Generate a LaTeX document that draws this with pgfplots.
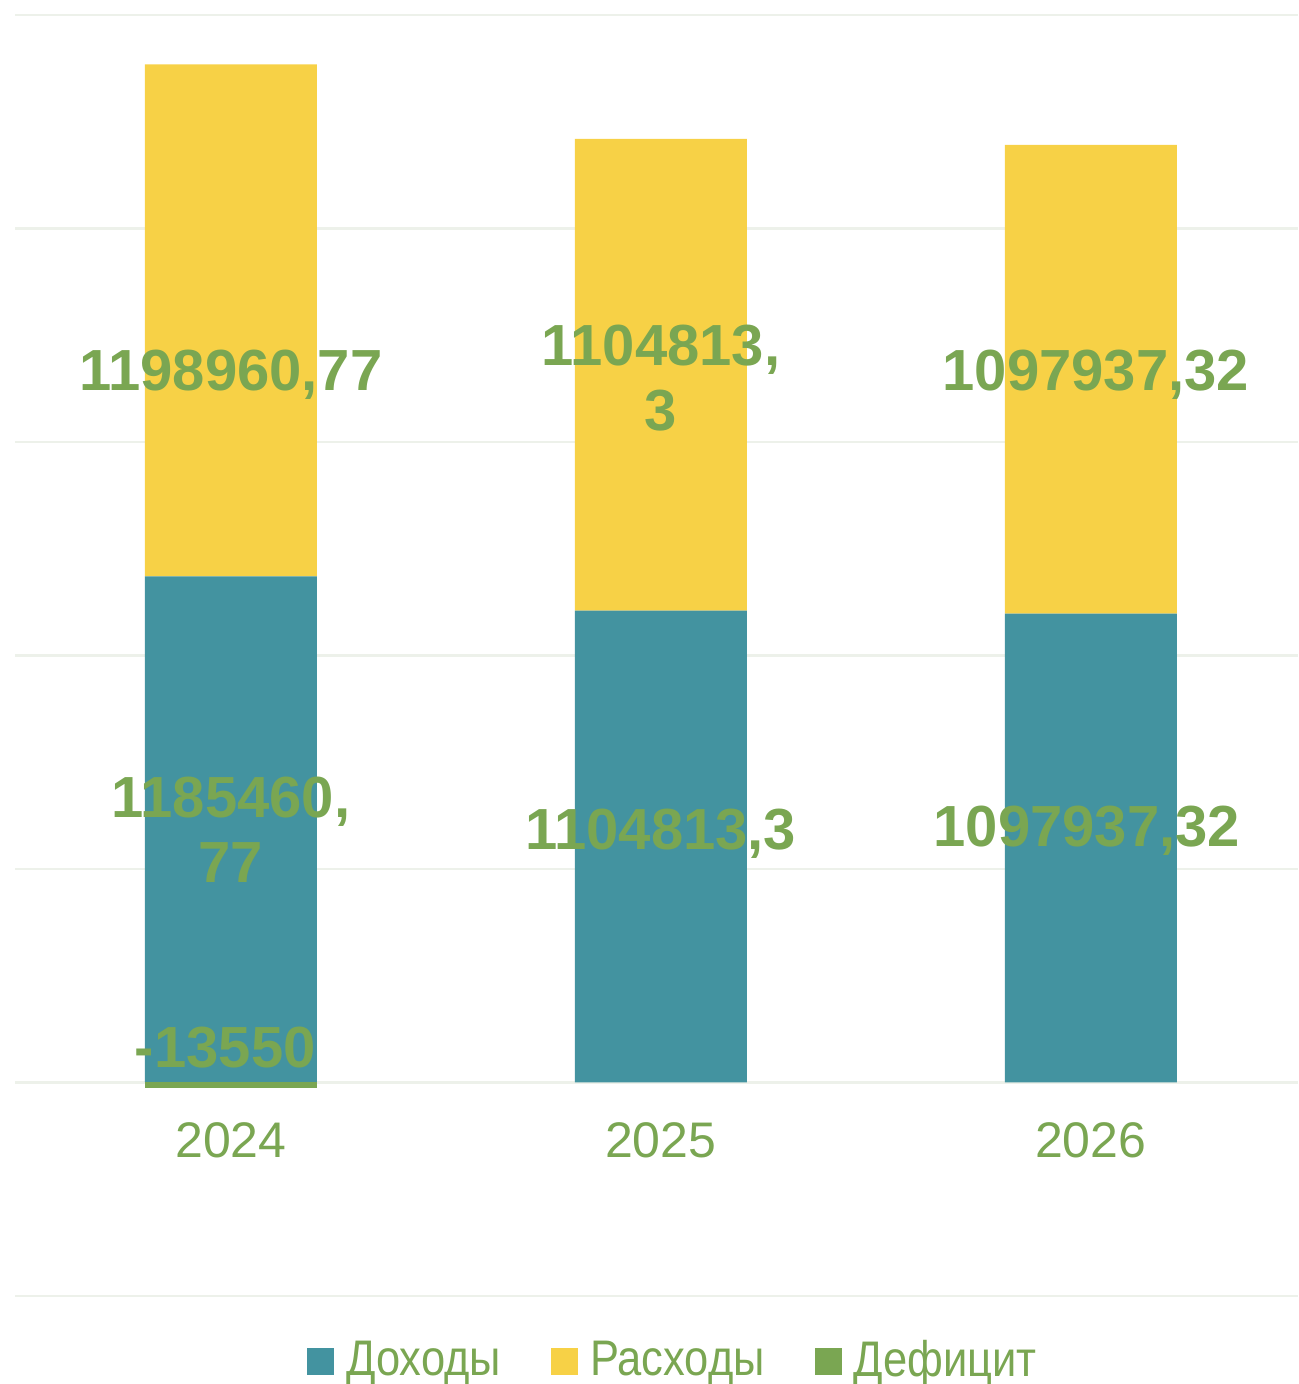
\documentclass[border=0pt]{standalone}
\usepackage{pgfplots}
\pgfplotsset{compat=1.18}
\usepackage{fontspec}
\setmainfont{Liberation Sans}
\newfontfamily\legfont[FakeStretch=0.87]{Liberation Sans}

\definecolor{dohod}{HTML}{4393A0}
\definecolor{rashod}{HTML}{F7D146}
\definecolor{deficit}{HTML}{7AA652}
\definecolor{labgreen}{HTML}{7AA652}
\definecolor{gridc}{HTML}{EDF1EA}

\pgfplotsset{
  base/.style={
    scale only axis, width=641.5pt, height=640.5pt,
    at={(0,0)}, anchor=south west,
    xmin=-0.502, xmax=2.482, ymin=-500000, ymax=2500000,
    clip=false,
  }
}

\begin{document}
\begin{tikzpicture}
\useasboundingbox (-7.5pt,-44pt) rectangle (641.5pt,648pt);
\begin{axis}[base, ybar stacked, bar width=86pt,
  axis line style={draw=none}, major tick length=0pt,
  ytick={-500000,0,...,2500000}, yticklabels={}, scaled y ticks=false,
  ymajorgrids, grid style={gridc, line width=1.2pt},
  xtick={0,1,2}, xticklabels={2024,2025,2026},
  xticklabel style={anchor=center, yshift=78pt,
    font=\fontsize{25}{30}\selectfont, text=labgreen},
  /pgf/number format/assume math mode=true,
  legend columns=3,
  legend style={at={(0.5167,-0.05)}, anchor=center, draw=none, fill=none,
    font=\legfont\fontsize{25}{30}\selectfont, text=labgreen,
    nodes={inner xsep=6pt},
    /tikz/every even column/.append style={column sep=19pt}},
  legend image code/.code={\fill[#1] (0pt,-7.5pt) rectangle (13.5pt,6pt);},
]
% Доходы
\addplot[fill=dohod, draw=none] coordinates {(0,1185460.77) (1,1104813.3) (2,1097937.32)};
% Расходы
\addplot[fill=rashod, draw=none] coordinates {(0,1198960.77) (1,1104813.3) (2,1097937.32)};
\addlegendentry{Доходы}
\addlegendentry{Расходы}
\addlegendimage{fill=deficit, draw=none}
\addlegendentry{Дефицит}
\end{axis}

\begin{axis}[base, hide axis]
% Дефицит
\addplot[ybar, bar width=86pt, bar shift=0pt, fill=deficit, draw=none]
  coordinates {(0,-13550)};
% подписи
\addplot[draw=none, mark=none, point meta=explicit symbolic, nodes near coords,
  every node near coord/.append style={anchor=center, align=center,
    font=\bfseries\fontsize{29}{32.5}\selectfont, text=labgreen, inner sep=0pt}]
  coordinates {
    (0,1656500) [1198960,77]
    (1,1650643) [1104813,\\3]
    (2.012,1658000) [1097937,32]
    (0,591608) [1185460,\\77]
    (1,583407) [1104813,3]
    (1.991,590436) [1097937,32]
    (-0.013,82005) [-13550]
  };
\end{axis}
\end{tikzpicture}
\end{document}
